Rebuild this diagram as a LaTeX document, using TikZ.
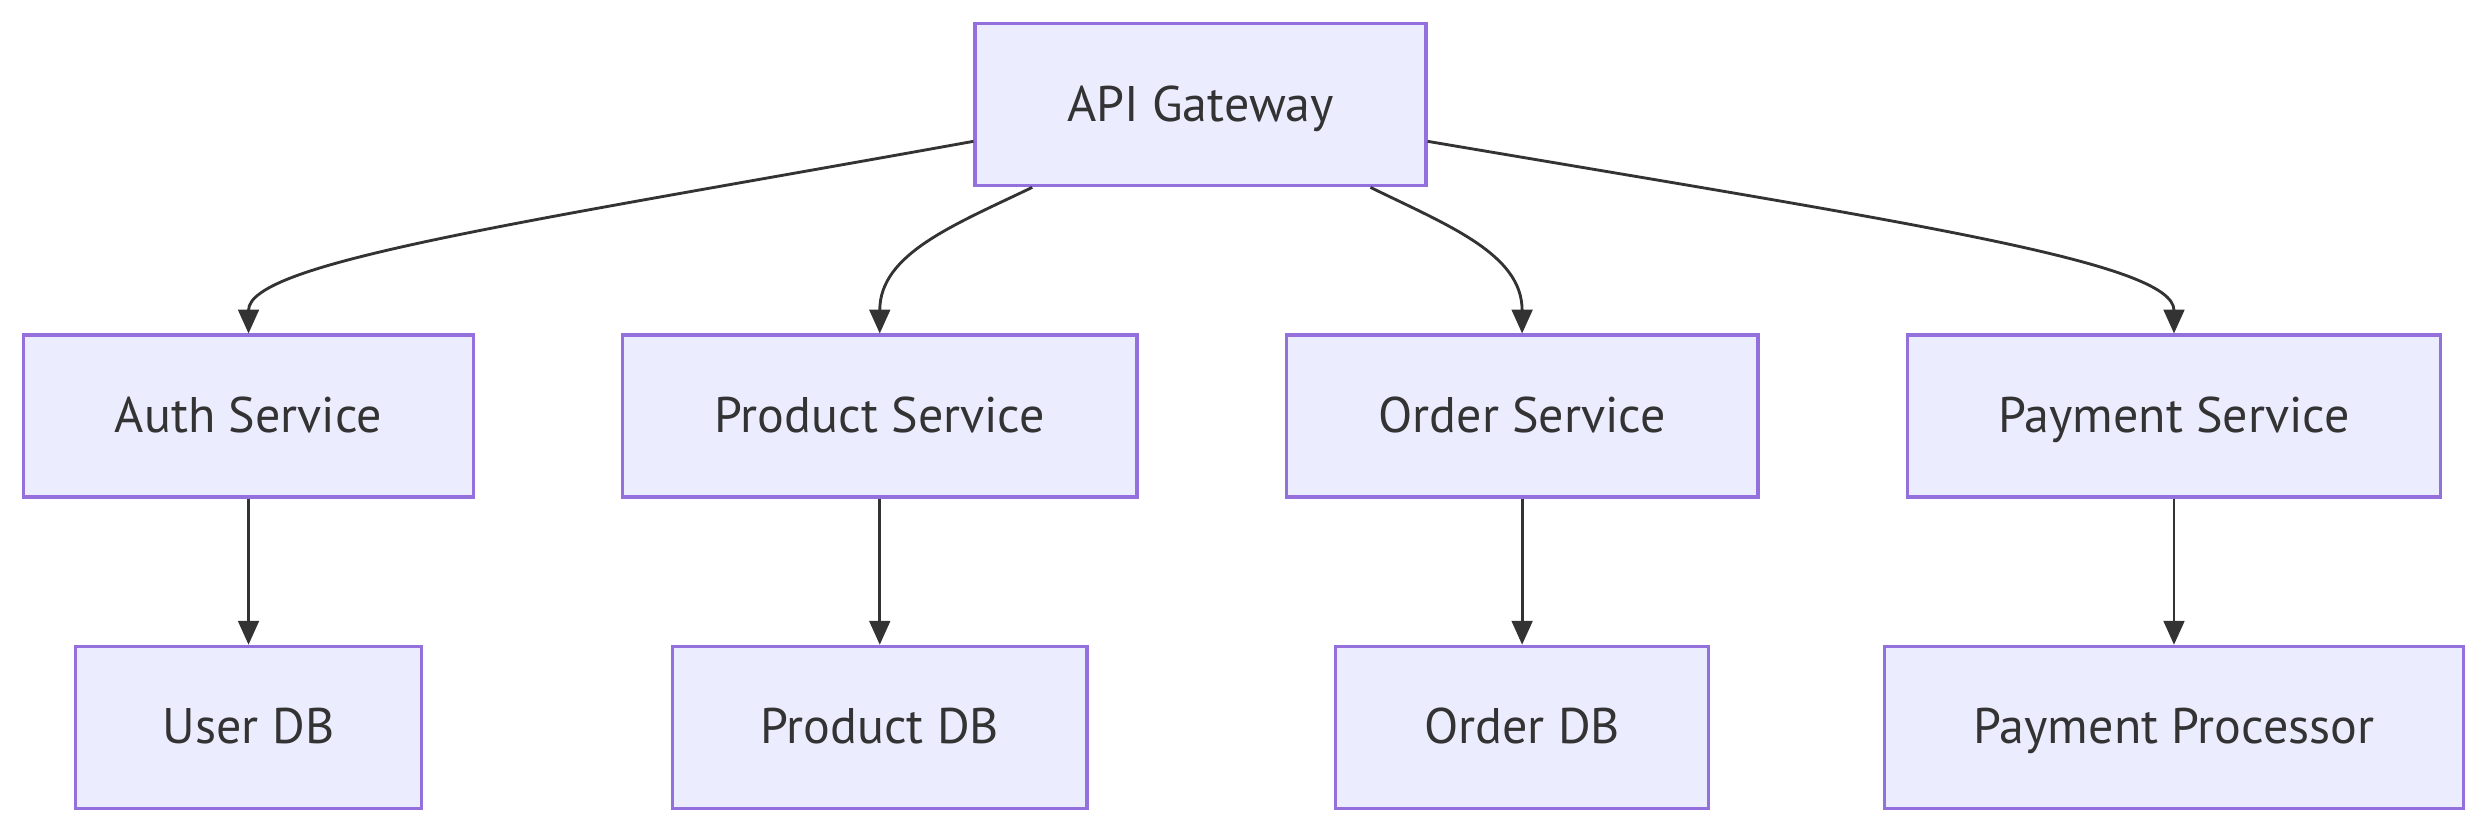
\documentclass[tikz,border=0pt]{standalone}
\usepackage{fontspec}
\setmainfont{PT Sans}
\usetikzlibrary{arrows.meta}
\definecolor{boxfill}{HTML}{ECECFF}
\definecolor{boxline}{HTML}{9370DB}
\definecolor{ink}{HTML}{333333}
\tikzset{
	svc/.style={draw=boxline,fill=boxfill,line width=2pt,text=ink,
		minimum height=102pt,inner sep=0pt,text height=24pt,text depth=3pt,
		font=\fontsize{31.5}{36}\selectfont},
	flow/.style={draw=ink,line width=1.8pt,-{Triangle[length=15pt,width=13pt]}},
}
\begin{document}
\begin{tikzpicture}[x=1pt,y=-1pt]
		\useasboundingbox (0,0) rectangle (1568,525);
		\node[svc,minimum width=284pt] (gw) at (756,66) {API Gateway};
		\node[svc,minimum width=283pt] (auth) at (156.5,262) {Auth Service};
		\node[svc,minimum width=324pt] (prod) at (554,262) {Product Service};
		\node[svc,minimum width=297pt] (ord) at (958.5,262) {Order Service};
		\node[svc,minimum width=336pt] (pay) at (1369,262) {Payment Service};
		\node[svc,minimum width=218pt] (udb) at (156.5,458) {User DB};
		\node[svc,minimum width=261pt] (pdb) at (554,458) {Product DB};
		\node[svc,minimum width=235pt] (odb) at (958.5,458) {Order DB};
		\node[svc,minimum width=365pt] (proc) at (1369,458) {Payment Processor};
		% gateway to the services
		\draw[flow] ([yshift=-23pt]gw.west) .. controls (330,140) and (156.5,165) .. (auth.north);
		\draw[flow] ([xshift=37pt]gw.south west) .. controls (600,142) and (554,160) .. (prod.north);
		\draw[flow] ([xshift=-36pt]gw.south east) .. controls (912,142) and (958.5,160) .. (ord.north);
		\draw[flow] ([yshift=-23pt]gw.east) .. controls (1200,140) and (1369,165) .. (pay.north);
		% services to their stores
		\foreach \from/\to in {auth/udb,prod/pdb,ord/odb,pay/proc}{
			\draw[flow] (\from) -- (\to);
		};
	\end{tikzpicture}
\end{document}
